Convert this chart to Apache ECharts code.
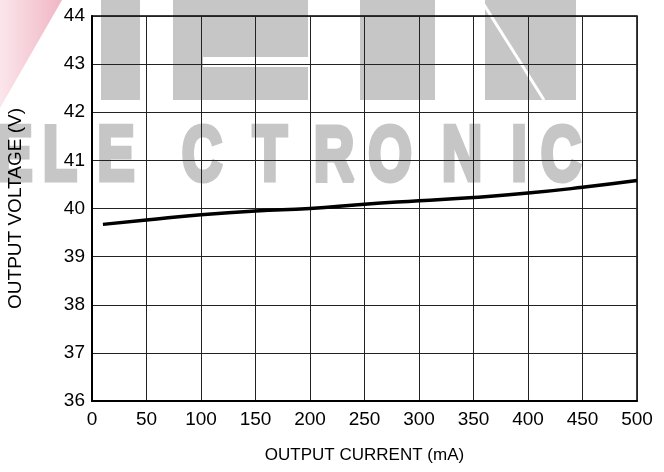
<!DOCTYPE html>
<html>
<head>
<meta charset="utf-8">
<script src="https://cdn.jsdelivr.net/npm/echarts@6/dist/echarts.min.js"></script>
<style>
  html, body { margin: 0; padding: 0; background: #fff; }
  #chart { width: 664px; height: 472px; }
</style>
</head>
<body>
<div id="chart"></div>
<script>
// output current (mA) and output voltage (V)
var currents = [10, 50, 100, 150, 200, 250, 300, 350, 400, 450, 500];
var voltages = [39.67, 39.76, 39.87, 39.95, 40.0, 40.09, 40.16, 40.23, 40.32, 40.44, 40.58];

var font = "'Liberation Sans', Arial, sans-serif";
var wmGray = "#c6c6c6";

// watermark letters "ELECTRONIC", one per element
var wmLetters = ["E", "L", "E", "C", "T", "R", "O", "N", "I", "C"];
var wmX = [14, 60, 116, 202, 270, 334, 390, 462, 519, 561];

var watermark = [
  // pink stripe top left
  {
    type: "polygon", z: -10, shape: { points: [[0, 0], [62, 0], [0, 108]] },
    style: {
      fill: new echarts.graphic.LinearGradient(0, 0, 1, 0, [
        { offset: 0, color: "#fbe6eb" }, { offset: 1, color: "#f0b6c4" }
      ])
    }
  },
  // TECH, only the lower part shows
  { type: "rect", z: -10, shape: { x: 101, y: 0, width: 39, height: 100 }, style: { fill: wmGray } },
  { type: "rect", z: -10, shape: { x: 173, y: 0, width: 135, height: 57 }, style: { fill: wmGray } },
  { type: "rect", z: -10, shape: { x: 173, y: 57, width: 30, height: 43 }, style: { fill: wmGray } },
  { type: "rect", z: -10, shape: { x: 173, y: 67, width: 135, height: 33 }, style: { fill: wmGray } },
  { type: "rect", z: -10, shape: { x: 360, y: 0, width: 75, height: 100 }, style: { fill: wmGray } },
  { type: "rect", z: -10, shape: { x: 485, y: 0, width: 91, height: 100 }, style: { fill: wmGray } },
  { type: "line", z: -9, shape: { x1: 481, y1: 0, x2: 544, y2: 100 }, style: { stroke: "#fff", lineWidth: 3 } }
];
wmLetters.forEach(function (ch, i) {
  watermark.push({
    type: "text", z: -10, x: wmX[i], y: 158, scaleX: 0.72,
    style: {
      text: ch, fill: wmGray, stroke: wmGray, lineWidth: 5,
      font: "bold 78px " + font,
      textAlign: "center", textVerticalAlign: "middle"
    }
  });
});

var chart = echarts.init(document.getElementById("chart"));
chart.setOption({
  animation: false,
  backgroundColor: "#fff",
  graphic: watermark,
  grid: {
    left: 92, right: 27, top: 16, bottom: 71,
    outerBoundsMode: "none", containLabel: false,
    show: true, borderColor: "#000", borderWidth: 1.5, backgroundColor: "transparent"
  },
  xAxis: {
    type: "value", min: 0, max: 500, interval: 50,
    name: "OUTPUT CURRENT (mA)", nameLocation: "middle", nameGap: 46,
    nameTextStyle: { fontFamily: font, fontSize: 17, color: "#000" },
    axisLine: { show: true, lineStyle: { color: "#000", width: 2 } },
    axisTick: { show: false },
    axisLabel: { fontFamily: font, fontSize: 19, color: "#000", margin: 9 },
    splitLine: { show: true, lineStyle: { color: "#222", width: 1 } }
  },
  yAxis: {
    type: "value", min: 36, max: 44, interval: 1,
    name: "OUTPUT VOLTAGE (V)", nameLocation: "middle", nameGap: 67,
    nameTextStyle: { fontFamily: font, fontSize: 19, color: "#000" },
    axisLine: { show: true, lineStyle: { color: "#000", width: 2 } },
    axisTick: { show: false },
    axisLabel: { fontFamily: font, fontSize: 19, color: "#000", margin: 7, padding: [0, 0, 5, 0] },
    splitLine: { show: true, lineStyle: { color: "#222", width: 1 } }
  },
  series: [{
    type: "line",
    data: currents.map(function (c, i) { return [c, voltages[i]]; }),
    smooth: true,
    showSymbol: false,
    lineStyle: { color: "#000", width: 3.5 }
  }]
});
</script>
</body>
</html>
